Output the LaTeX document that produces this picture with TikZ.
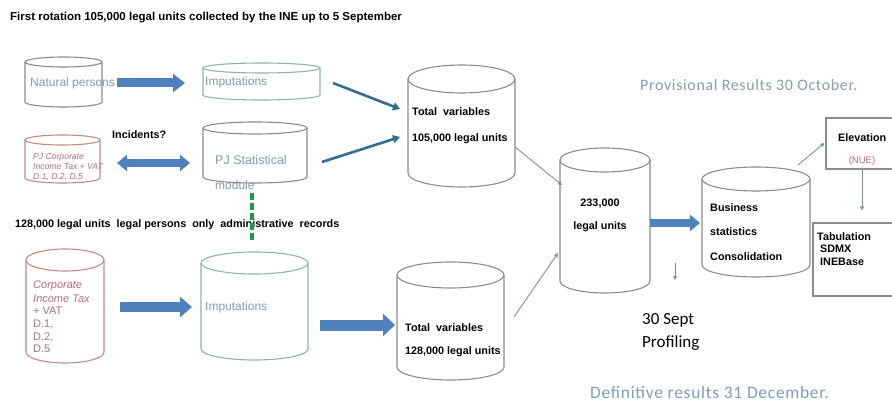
\documentclass[tikz,border=0pt]{standalone}
\usepackage{fontspec}
\setmainfont{Liberation Sans}
\newfontfamily\calib{Carlito}
\newfontfamily\calibsp[LetterSpace=4]{Carlito}
\usetikzlibrary{arrows.meta,calc}
\definecolor{cylgray}{HTML}{8C8C8C}
\definecolor{cylgreen}{HTML}{8FB5A8}
\definecolor{cylred}{HTML}{C48A8A}
\definecolor{txtgray}{HTML}{8A98A8}
\definecolor{txtred}{HTML}{B07080}
\definecolor{blockblue}{HTML}{4F81BD}
\definecolor{tealc}{HTML}{2F6F92}
\definecolor{thinc}{HTML}{7F8F9F}
\definecolor{dashgreen}{HTML}{1F9A4A}
\definecolor{provc}{HTML}{8A9EA6}
\definecolor{defc}{HTML}{7F9FBA}
\newcommand\dbcyl[7]{%
 \pgfmathsetmacro\dbcx{(#2+#4)/2}%
 \pgfmathsetmacro\dbrx{(#4-#2)/2}%
 \pgfmathsetmacro\dbyt{-(#3+#6)}%
 \pgfmathsetmacro\dbyb{-(#5-#6)}%
 \pgfmathsetmacro\dbcy{-(#3+#5)/2}%
 \pgfmathsetmacro\dbw{#4-#2}%
 \pgfmathsetmacro\dbh{#5-#3}%
 \node[inner sep=0pt, outer sep=0pt, minimum width=\dbw pt, minimum height=\dbh pt] (#1) at (\dbcx,\dbcy) {};
 \draw[#7] (\dbcx,\dbyt) ellipse[x radius=\dbrx, y radius=#6];
 \draw[#7] (#2,\dbyt) -- (#2,\dbyb) arc[start angle=180, end angle=360, x radius=\dbrx, y radius=#6] -- (#4,\dbyt);
}
\tikzset{
 cylg/.style={draw=cylgray, line width=1.1pt},
 cylgr/.style={draw=cylgreen, line width=1.1pt},
 cylr/.style={draw=cylred, line width=1.1pt},
 lbl/.style={anchor=west, inner sep=0pt, font=\bfseries\fontsize{10.8}{12}\selectfont},
 glbl/.style={anchor=west, inner sep=0pt, text=txtgray, font=\fontsize{12}{13}\selectfont},
 rlbl/.style={anchor=west, inner sep=0pt, text=txtred, font=\itshape\fontsize{8.6}{9}\selectfont},
 rlblb/.style={anchor=west, inner sep=0pt, text=txtred, font=\fontsize{11}{12}\selectfont},
 blockarr/.style n args={3}{draw=blockblue, line width=#1, -{Triangle[width=#2,length=#3]}},
 dblarr/.style={draw=blockblue, line width=8pt, {Triangle[width=16pt,length=10pt]}-{Triangle[width=16pt,length=10pt]}},
 tealarr/.style={draw=tealc, line width=2.6pt, -{Triangle[width=8pt,length=7pt]}},
 thinarr/.style={draw=thinc, line width=0.9pt, -{Triangle[width=4pt,length=4pt]}},
 boxst/.style={draw=cylgray, line width=1.1pt, inner sep=0pt}
}
\begin{document}
\begin{tikzpicture}[x=1pt,y=1pt]
\clip (0,0) rectangle (892,-406);
\fill[white] (0,0) rectangle (892,-406);

% cylinders
\dbcyl{nat}{25}{57}{102}{107}{5}{cylg}
\dbcyl{imp1}{203}{63}{320}{100}{5}{cylgr}
\dbcyl{pjc}{25}{135}{100}{183}{5}{cylr}
\dbcyl{pjs}{203}{122}{307}{183}{6}{cylg}
\dbcyl{cit}{26}{249}{104}{363}{11}{cylr}
\dbcyl{imp2}{201}{252}{308}{360}{11}{cylgr}
\dbcyl{tv1}{408}{65}{515}{187}{14}{cylg}
\dbcyl{tv2}{397}{262}{504}{380}{13}{cylg}
\dbcyl{u233}{560}{148}{650}{293}{12}{cylg}
\dbcyl{bsc}{702}{167}{810}{277}{12}{cylg}

% boxes
\node[boxst, minimum width=80pt, minimum height=51pt] (elev) at (866,-143.5) {};
\node[boxst, minimum width=92pt, minimum height=73pt] (tab) at (859,-259.5) {};

% texts
\node[lbl, font=\bfseries\fontsize{11.5}{12}\selectfont] (title) at (10,-18) {First rotation 105,000 legal units collected by the INE up to 5 September};
\node[glbl] (natl) at (30,-83) {Natural persons};
\node[glbl] (imp1l) at (205,-82) {Imputations};
\node[lbl] (inc) at (112,-135) {Incidents?};
\node[rlbl] (pjc1) at (33,-157) {PJ Corporate};
\node[rlbl] (pjc2) at (33,-167) {Income Tax + VAT};
\node[rlbl] (pjc3) at (33,-177) {D.1, D.2, D.5};
\node[glbl, font=\fontsize{12.5}{13}\selectfont] (pjs1) at (215,-160) {PJ Statistical};
\node[glbl] (pjs2) at (215,-185) {module};
\node[lbl] (leg) at (15,-225) {128,000 legal units \ legal persons \ only \ administrative \ records};
\node[rlblb, font=\itshape\fontsize{11}{12}\selectfont] (cit1) at (33,-286) {Corporate};
\node[rlblb, font=\itshape\fontsize{11}{12}\selectfont] (cit2) at (33,-299) {Income Tax};
\node[rlblb] (cit3) at (33,-311) {+ VAT};
\node[rlblb] (cit4) at (33,-324) {D.1,};
\node[rlblb] (cit5) at (33,-337) {D.2,};
\node[rlblb] (cit6) at (33,-349) {D.5};
\node[glbl] (imp2l) at (205,-307) {Imputations};
\node[lbl] (tv1a) at (412,-112) {Total \ variables};
\node[lbl] (tv1b) at (412,-139) {105,000 legal units};
\node[lbl] (tv2a) at (405,-328) {Total \ variables};
\node[lbl] (tv2b) at (405,-352) {128,000 legal units};
\node[lbl, anchor=center] (u1) at (600,-204) {233,000};
\node[lbl, anchor=center] (u2) at (600,-227) {legal units};
\node[lbl] (bs1) at (710,-208) {Business};
\node[lbl] (bs2) at (710,-232) {statistics};
\node[lbl] (bs3) at (710,-257) {Consolidation};
\node[lbl] (el1) at (838,-138) {Elevation};
\node[anchor=center, inner sep=0pt, text=txtred, font=\fontsize{9.5}{10}\selectfont] (el2) at (862,-161) {(NUE)};
\node[lbl] (tb1) at (817,-237) {Tabulation};
\node[lbl] (tb2) at (820,-249) {SDMX};
\node[lbl] (tb3) at (820,-262) {INEBase};
\node[anchor=west, inner sep=0pt, font=\calib\fontsize{17}{19}\selectfont] (pr1) at (642,-320) {30 Sept};
\node[anchor=west, inner sep=0pt, font=\calib\fontsize{17}{19}\selectfont] (pr2) at (642,-343) {Profiling};
\node[anchor=west, inner sep=0pt, text=provc, font=\calibsp\fontsize{16}{18}\selectfont] (prov) at (640,-85) {Provisional Results 30 October.};
\node[anchor=west, inner sep=0pt, text=defc, font=\calibsp\fontsize{17.5}{19}\selectfont] (defi) at (590,-392) {Definitive results 31 December.};

% connectors
\draw[blockarr={9pt}{18pt}{12pt}] ($(nat.east)+(15,-1)$) -- ($(imp1.west)+(-18,-1.5)$);
\draw[dblarr] ($(pjc.east)+(17,-4)$) -- ($(pjs.west)+(-13,-10.5)$);
\draw[blockarr={10pt}{20pt}{12pt}] ($(cit.east)+(16,-1)$) -- ($(imp2.west)+(-9,-1)$);
\draw[blockarr={11pt}{22pt}{12pt}] ($(imp2.east)+(12,-19)$) -- ($(tv2.west)+(-2,-4)$);
\draw[blockarr={8pt}{16pt}{10pt}] ($(u233.east)+(0,-2.5)$) -- ($(bsc.west)+(-2,-1)$);
\draw[tealarr] ($(imp1.east)+(13,-1.5)$) -- ($(tv1.west)+(-8,17)$);
\draw[tealarr] ($(pjs.east)+(15,-9.5)$) -- ($(tv1.west)+(-8,-11)$);
\draw[thinarr] ($(tv1.east)+(0,-21)$) -- ($(u233.west)+(2,35.5)$);
\draw[thinarr] ($(tv2.east)+(10,4)$) -- ($(u233.west)+(-2,-32.5)$);
\coordinate (pdown) at ($(u233.east)+(25,-42.5)$);
\draw[thinarr] (pdown) -- ($(pdown)+(0,-17)$);
\draw[thinarr] ($(bsc.north east)+(-12,2)$) -- ($(elev.west)+(-1,0.5)$);
\draw[thinarr] ($(elev.south)+(-4,0)$) -- ($(tab.north)+(3,12)$);
\draw[draw=dashgreen, line width=3.5pt, dash pattern=on 7pt off 3pt] ($(pjs.south)+(-3,-10)$) -- ($(imp2.north)+(-2.5,12)$);
\end{tikzpicture}
\end{document}
